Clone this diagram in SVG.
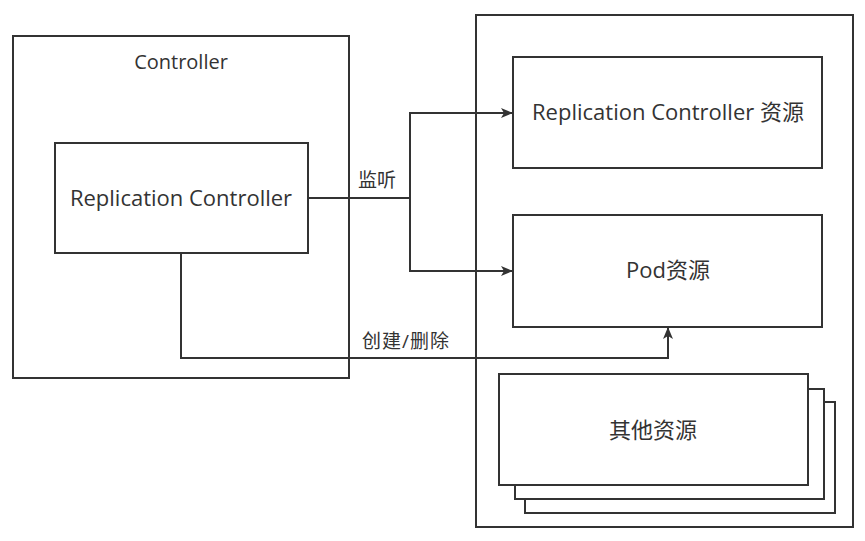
<svg xmlns="http://www.w3.org/2000/svg" width="865" height="541" viewBox="0 0 865 541">
<style>
.box{fill:#fff;stroke:#333;stroke-width:2}
.t{font-family:"Open Sans","Noto Sans CJK SC",sans-serif;fill:#333;text-anchor:middle}
.line{fill:none;stroke:#333;stroke-width:2}
</style>
<defs>
<marker id="arr" markerWidth="12" markerHeight="10" refX="11" refY="5" orient="auto" markerUnits="userSpaceOnUse">
<path d="M0,0 L12,5 L0,10 L3,5 Z" fill="#333"/>
</marker>
</defs>
<rect width="865" height="541" fill="#fff"/>
<g id="controller">
<rect class="box" x="13" y="36" width="336" height="342"/>
<text class="t" x="181" y="69" font-size="20">Controller</text>
</g>
<g id="resources">
<rect class="box" x="476" y="15" width="377" height="512"/>
</g>
<g id="rc">
<rect class="box" x="55" y="143" width="253" height="110"/>
<text class="t" x="181" y="206" font-size="22">Replication Controller</text>
</g>
<g id="rc-resource">
<rect class="box" x="513" y="57" width="309" height="111"/>
<text class="t" x="668" y="120" font-size="22">Replication Controller 资源</text>
</g>
<g id="pod-resource">
<rect class="box" x="513" y="215" width="309" height="112"/>
<text class="t" x="668" y="278" font-size="22">Pod资源</text>
</g>
<g id="other-resources">
<rect class="box" x="525" y="402" width="310" height="111"/>
<rect class="box" x="515" y="389" width="309" height="110"/>
<rect class="box" x="499" y="374" width="309" height="111"/>
<text class="t" x="653" y="438" font-size="22">其他资源</text>
</g>
<g id="connectors">
<path class="line" d="M308,198 H410 V113 H512" marker-end="url(#arr)"/>
<path class="line" d="M410,198 V271 H512" marker-end="url(#arr)"/>
<path class="line" d="M181,253 V358 H668 V328" marker-end="url(#arr)"/>
<text class="t" x="377" y="187" font-size="19">监听</text>
<text class="t" x="406" y="348" font-size="19" letter-spacing="1">创建/删除</text>
</g>
</svg>
